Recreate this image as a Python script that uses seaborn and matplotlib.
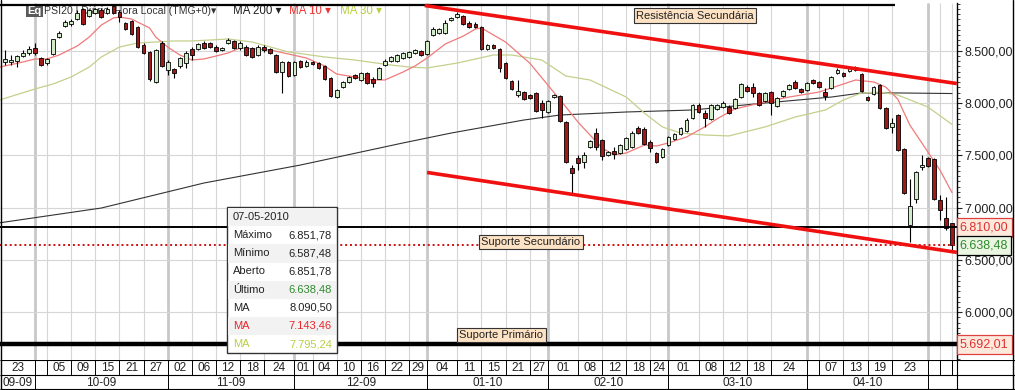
import matplotlib
matplotlib.use('Agg')
import matplotlib.pyplot as plt
from matplotlib.patches import Rectangle
from matplotlib.ticker import MultipleLocator, FuncFormatter
from matplotlib.transforms import blended_transform_factory
import seaborn as sns

# PSI20 daily candles, 24-09-2009 .. 07-05-2010
opens = [8392, 8392, 8402, 8449, 8478, 8526, 8430, 8382, 8468, 8631,
         8736, 8755, 8803, 8899, 8832, 8860, 8889, 8860, 8927, 8870,
         8765, 8784, 8727, 8554, 8488, 8201, 8574, 8315, 8325, 8354,
         8382, 8516, 8516, 8574, 8574, 8535, 8507, 8574, 8593, 8526,
         8535, 8526, 8459, 8535, 8516, 8459, 8296, 8392, 8268, 8402,
         8354, 8392, 8382, 8354, 8239, 8057, 8153, 8201, 8268, 8220,
         8287, 8229, 8229, 8363, 8402, 8402, 8430, 8440, 8478, 8497,
         8468, 8650, 8669, 8669, 8793, 8822, 8832, 8765, 8755, 8727,
         8516, 8554, 8516, 8382, 8210, 8076, 8105, 8076, 8096, 8000,
         7914, 8057, 8067, 7818, 7379, 7474, 7436, 7579, 7713, 7646,
         7503, 7541, 7522, 7560, 7579, 7761, 7751, 7627, 7522, 7484,
         7598, 7656, 7704, 7732, 7857, 7981, 7904, 7847, 7943, 7962,
         7962, 7952, 8057, 8153, 8153, 8096, 8019, 8105, 7971, 8067,
         8134, 8201, 8134, 8124, 8220, 8201, 8105, 8143, 8287, 8287,
         8306, 8344, 8277, 8057, 8086, 8172, 7952, 7771, 7885, 7560,
         6834, 7082, 7388, 7474, 7465, 7073, 6901, 6851.78]
highs = [8507, 8459, 8459, 8507, 8545, 8574, 8440, 8430, 8615, 8688,
         8793, 8803, 8889, 8910, 8899, 8910, 8905, 8915, 8945, 8889,
         8774, 8793, 8736, 8574, 8497, 8516, 8590, 8411, 8335, 8440,
         8497, 8535, 8574, 8590, 8583, 8550, 8535, 8620, 8602, 8590,
         8550, 8540, 8555, 8554, 8530, 8465, 8402, 8402, 8402, 8415,
         8411, 8402, 8392, 8360, 8245, 8134, 8215, 8260, 8277, 8300,
         8300, 8249, 8344, 8421, 8449, 8468, 8490, 8500, 8516, 8507,
         8600, 8725, 8717, 8790, 8822, 8870, 8845, 8784, 8770, 8736,
         8564, 8564, 8526, 8392, 8220, 8220, 8115, 8086, 8105, 8029,
         8029, 8086, 8076, 7828, 7407, 7503, 7532, 7650, 7761, 7656,
         7541, 7579, 7608, 7675, 7730, 7780, 7771, 7646, 7532, 7570,
         7685, 7713, 7771, 7857, 7995, 8000, 7933, 7995, 7995, 8019,
         7981, 8048, 8191, 8170, 8191, 8105, 8105, 8115, 8057, 8124,
         8182, 8220, 8143, 8201, 8230, 8210, 8143, 8258, 8330, 8300,
         8354, 8354, 8287, 8067, 8163, 8182, 7962, 7857, 7895, 7570,
         7273, 7350, 7503, 7484, 7474, 7120, 7101, 6851.78]
lows = [8363, 8363, 8344, 8440, 8459, 8459, 8354, 8363, 8459, 8625,
        8727, 8736, 8793, 8746, 8822, 8851, 8813, 8851, 8851, 8774,
        8698, 8650, 8526, 8468, 8210, 8191, 8340, 8268, 8239, 8335,
        8335, 8411, 8507, 8516, 8526, 8488, 8497, 8564, 8516, 8510,
        8450, 8430, 8450, 8488, 8470, 8287, 8096, 8249, 8258, 8335,
        8344, 8365, 8325, 8220, 8057, 8048, 8143, 8191, 8229, 8210,
        8180, 8153, 8225, 8354, 8392, 8395, 8421, 8430, 8470, 8450,
        8459, 8640, 8660, 8660, 8784, 8813, 8746, 8717, 8717, 8507,
        8507, 8516, 8300, 8229, 8124, 8057, 8029, 8038, 7914, 7857,
        7904, 8048, 7818, 7426, 7140, 7359, 7379, 7570, 7551, 7455,
        7493, 7465, 7512, 7551, 7570, 7704, 7598, 7532, 7426, 7474,
        7590, 7646, 7694, 7723, 7847, 7904, 7771, 7837, 7933, 7952,
        7895, 7943, 8048, 8105, 8057, 7971, 8010, 7885, 7962, 8057,
        8124, 8134, 8096, 8115, 8182, 8143, 8029, 8134, 8277, 8249,
        8296, 8306, 8105, 8019, 8076, 7943, 7751, 7713, 7541, 7130,
        6671, 7045, 7359, 7388, 7073, 6881, 6786, 6587.48]
closes = [8421, 8411, 8449, 8478, 8516, 8478, 8363, 8421, 8612, 8669,
          8774, 8784, 8860, 8755, 8889, 8899, 8822, 8899, 8860, 8822,
          8707, 8660, 8535, 8478, 8229, 8507, 8354, 8392, 8287, 8430,
          8478, 8459, 8564, 8526, 8535, 8497, 8526, 8602, 8526, 8574,
          8459, 8440, 8535, 8507, 8478, 8296, 8392, 8258, 8392, 8344,
          8392, 8373, 8335, 8229, 8067, 8124, 8201, 8249, 8239, 8287,
          8191, 8191, 8335, 8402, 8440, 8459, 8478, 8488, 8507, 8459,
          8593, 8707, 8707, 8765, 8813, 8851, 8755, 8727, 8727, 8516,
          8554, 8526, 8335, 8239, 8134, 8115, 8038, 8048, 7924, 7933,
          8019, 8076, 7828, 7436, 7331, 7426, 7503, 7637, 7579, 7493,
          7532, 7512, 7598, 7665, 7713, 7713, 7608, 7570, 7436, 7560,
          7675, 7704, 7761, 7837, 7981, 7914, 7857, 7981, 7981, 8000,
          7904, 8038, 8182, 8115, 8096, 7981, 8096, 8000, 8048, 8115,
          8172, 8143, 8105, 8191, 8191, 8153, 8067, 8249, 8315, 8258,
          8344, 8315, 8115, 8029, 8153, 7952, 7761, 7809, 7551, 7140,
          7015, 7340, 7407, 7398, 7082, 6977, 6805, 6638.48]

# moving averages, read at selected candles
ma200_idx = [-0.8, 16, 33, 49, 66, 74, 86, 92, 103, 114, 126, 137, 142, 148, 157]
ma200_val = [6855, 6996, 7235, 7407, 7618, 7713, 7837, 7885, 7914, 7933,
             8000, 8057, 8096, 8096, 8090.50]
ma10_idx = [-0.8, 3, 5, 7, 9, 12, 14, 16, 18, 19, 21, 24, 25, 27, 29, 31, 33,
            35, 37, 39, 44, 50, 53, 55, 58, 61, 63, 66, 68, 70, 73, 76, 78,
            79, 83, 87, 90, 93, 95, 97, 99, 101, 103, 106, 108, 110, 113,
            116, 118, 121, 126, 130, 135, 138, 141, 144, 146, 148, 150, 153,
            155, 157]
ma10_val = [8344, 8392, 8421, 8421, 8459, 8545, 8631, 8746, 8813, 8822,
            8803, 8717, 8631, 8535, 8459, 8411, 8421, 8449, 8478, 8526,
            8507, 8430, 8354, 8277, 8249, 8220, 8220, 8296, 8354, 8430,
            8564, 8640, 8707, 8717, 8583, 8382, 8172, 7962, 7818, 7694,
            7570, 7503, 7522, 7598, 7589, 7618, 7675, 7771, 7847, 7943,
            8010, 8057, 8105, 8163, 8220, 8201, 8153, 8038, 7790, 7532,
            7359, 7143.46]
ma30_idx = [-0.8, 5, 8, 11, 14, 16, 19, 22, 25, 28, 31, 34, 37, 41, 47, 53,
            58, 64, 67, 70, 75, 81, 84, 89, 93, 97, 103, 106, 109, 112,
            116, 120, 126, 131, 136, 139, 142, 145, 148, 153, 157]
ma30_val = [8030, 8134, 8182, 8249, 8344, 8440, 8535, 8574, 8583, 8593,
            8593, 8602, 8612, 8583, 8488, 8440, 8411, 8363, 8344, 8335,
            8382, 8459, 8459, 8411, 8258, 8220, 8057, 7904, 7771, 7713,
            7694, 7685, 7771, 7866, 7933, 8029, 8096, 8105, 8076, 7962,
            7795.24]

# date axis: candle index of each grid line and its label
day_ticks = [-1, 5, 7, 11, 15, 19, 23, 27, 31, 35, 39, 43, 48, 51, 55, 59,
             63, 67, 70, 75, 79, 83, 87, 90, 95, 99, 103, 107, 110, 115, 119,
             123, 127, 133, 135, 139, 143, 147, 153, 155, 157]
day_labels = ['23', '', '05', '09', '15', '21', '27', '02', '06', '12', '18',
              '24', '01', '04', '10', '16', '22', '29', '04', '11', '15', '21',
              '27', '01', '08', '12', '18', '24', '01', '08', '12', '18', '24',
              '', '07', '13', '19', '23', '', '', '']
month_ticks = [-1, 5, 27, 48, 70, 90, 110, 133, 153]
month_labels = ['09-09', '10-09', '11-09', '12-09', '01-10', '02-10',
                '03-10', '04-10', '']

# drawn levels and trend channel
resist_sec = 8937
resist_end = 147.5
sup_sec = 6810.00
last_close = 6638.48
sup_prim = 5692.01
trend_top_idx = [69.6, 157.8]
trend_top_val = [8932, 8186]
trend_bot_idx = [70.0, 157.8]
trend_bot_val = [7336, 6572]

tip_labels = ['Máximo', 'Mínimo', 'Aberto', 'Último', 'MA', 'MA', 'MA']
tip_values = [6851.78, 6587.48, 6851.78, 6638.48, 8090.50, 7143.46, 7795.24]


def br(v):
    s = f'{v:,.2f}'
    return s.replace(',', '#').replace('.', ',').replace('#', '.')


sns.set_style('white')
plt.rcParams['font.family'] = ['Liberation Sans', 'DejaVu Sans']

W, H = 1015, 390
STEP = 6.033
X0 = -0.8
X1 = X0 + 957 / STEP

fig = plt.figure(figsize=(W / 100, H / 100), dpi=100)
fig.patch.set_facecolor('white')

ax = fig.add_axes([0, 30 / H, 957 / W, 357 / H])
ax.set_xlim(X0, X1)
ax.set_ylim(5543, 8956)

# grid
ax.vlines([t for t in day_ticks if t > X0], 5543, 8956, color='#d6d6d6', lw=0.8, zorder=0)
ax.vlines([t for t in month_ticks if t > X0], 5543, 8956, color='#c8c8c8', lw=2.0, zorder=0)
ax.hlines([6000, 6500, 7000, 7500, 8000, 8500], X0, X1, color='#d6d6d6', lw=0.8, zorder=0)

# moving averages
sns.lineplot(x=ma200_idx, y=ma200_val, ax=ax, color='#333333', lw=0.8, zorder=2)
sns.lineplot(x=ma30_idx, y=ma30_val, ax=ax, color='#c3d08c', lw=0.9, zorder=2)
sns.lineplot(x=ma10_idx, y=ma10_val, ax=ax, color='#f07a7a', lw=0.9, zorder=2)

# candles
idx = list(range(len(closes)))
ax.vlines(idx, lows, highs, color='black', lw=0.8, zorder=3)
for i, o, c in zip(idx, opens, closes):
    up = c >= o
    ax.bar(i, max(abs(c - o), 8), bottom=min(o, c), width=0.62,
           color='#d2ebc8' if up else '#a01818', edgecolor='black', lw=0.6, zorder=4)

# levels
ax.hlines(resist_sec, X0, resist_end, color='black', lw=1.6, zorder=5)
ax.hlines(sup_sec, X0, X1, color='black', lw=1.4, zorder=5)
ax.hlines(last_close, X0, X1, color='#d01010', lw=1.4, ls=(0, (1, 1.5)), zorder=5)
ax.hlines(sup_prim, X0, X1, color='black', lw=3.2, zorder=5)
ax.plot(trend_top_idx, trend_top_val, color='#f01010', lw=2.6, zorder=6, solid_capstyle='butt')
ax.plot(trend_bot_idx, trend_bot_val, color='#f01010', lw=2.6, zorder=6, solid_capstyle='butt')

box = dict(boxstyle='square,pad=0.2', fc='#fde2c4', ec='#333333', lw=0.8)
ax.text(114.4, 8836, 'Resistência Secundária', fontsize=8, color='#222222', ha='center', va='center', bbox=box, zorder=7)
ax.text(87.2, 6670, 'Suporte Secundário', fontsize=8, color='#222222', ha='center', va='center', bbox=box, zorder=7)
ax.text(82.3, 5780, 'Suporte Primário', fontsize=8, color='#222222', ha='center', va='center', bbox=box, zorder=7)

# right axis
ax.yaxis.tick_right()
ax.set_yticks([6000, 6500, 7000, 7500, 8000, 8500])
ax.yaxis.set_major_formatter(FuncFormatter(lambda v, p: br(v)))
ax.yaxis.set_minor_locator(MultipleLocator(50))
ax.tick_params(axis='y', which='major', direction='out', length=3.6, width=0.8, pad=2, labelsize=9, colors='#222222')
ax.tick_params(axis='y', which='minor', direction='out', length=2.2, width=0.6, colors='#222222')
ax.set_xticks([])
for side in ['top', 'bottom', 'left']:
    ax.spines[side].set_visible(False)
ax.spines['right'].set_color('black')
ax.spines['right'].set_linewidth(1)
ax.set_xlabel('')
ax.set_ylabel('')

tr = blended_transform_factory(ax.transAxes, ax.transData)
for val, tc, fc, ec in [(sup_sec, '#e03030', '#fde8dc', '#e04040'),
                        (last_close, '#2e8b2e', '#eaf5e2', 'black'),
                        (sup_prim, '#e03030', '#fde8dc', '#e04040')]:
    ax.text(1.003, val, br(val), transform=tr, ha='left', va='center', fontsize=9, color=tc,
            bbox=dict(boxstyle='square,pad=0.25', fc=fc, ec=ec, lw=0.9), clip_on=False, zorder=10)

# date table
dax = fig.add_axes([0, 0, 1, 30 / H])
dax.set_xlim(X0, X0 + W / STEP)
dax.set_ylim(0, 2)
dax.axis('off')
dax.hlines([1.97, 1.0, 0.04], X0, X0 + W / STEP, color='black', lw=0.8)
dax.vlines([t for t in day_ticks if t > X0], 1.0, 2.0, color='black', lw=0.7)
dax.vlines([t for t in month_ticks if t > X0], 0, 2.0, color='black', lw=0.7)
dax.vlines([X1], 0, 2.0, color='black', lw=0.8)
for k, (t, lab) in enumerate(zip(day_ticks, day_labels)):
    nxt = day_ticks[k + 1] if k + 1 < len(day_ticks) else X1
    dax.text((max(t, X0) + nxt) / 2, 1.47, lab, ha='center', va='center', fontsize=8.5, color='#222222')
for k, (t, lab) in enumerate(zip(month_ticks, month_labels)):
    nxt = month_ticks[k + 1] if k + 1 < len(month_ticks) else X1
    dax.text((max(t, X0) + nxt) / 2, 0.5, lab, ha='center', va='center', fontsize=8.5, color='#222222')

# overlay in pixel space: header, tooltip, frame
ov = fig.add_axes([0, 0, 1, 1], zorder=10)
ov.set_xlim(0, W)
ov.set_ylim(H, 0)
ov.axis('off')
ov.patch.set_alpha(0)

ax.text(27, 11, 'Eq', transform=ov.transData, fontsize=8, fontweight='bold', color='white', va='center',
        bbox=dict(boxstyle='square,pad=0.12', fc='#5a5a5a', ec='none'), zorder=1)
ax.text(44, 11, 'PSI20 | Diário  Hora Local (TMG+0)▾', transform=ov.transData, fontsize=7.6,
        color='#333333', va='center', zorder=1)
ax.text(233, 11, 'MA 200 ▾', transform=ov.transData, fontsize=8.3, color='#222222', va='center', zorder=1)
ax.text(289, 11, 'MA 10 ▾', transform=ov.transData, fontsize=8.3, color='#ee3333', va='center', zorder=1)
ax.text(340, 11, 'MA 30 ▾', transform=ov.transData, fontsize=8.3, color='#b7cf3c', va='center', zorder=1)

ov.add_patch(Rectangle((227, 207), 110, 146, fc='white', ec='#333333', lw=1))
for r in range(8):
    if r % 2 == 0:
        ov.add_patch(Rectangle((228, 208 + r * 18.2), 108, 18.2, fc='#f2f2f2', ec='none'))
ov.text(233, 216.5, '07-05-2010', fontsize=8, color='#222222', va='center')
val_cols = ['#222222', '#222222', '#222222', '#2e8b2e', '#222222', '#e8262c', '#b8cf45']
lab_cols = ['#222222', '#222222', '#222222', '#222222', '#222222', '#e8262c', '#b8cf45']
for r, (lab, v) in enumerate(zip(tip_labels, tip_values)):
    yy = 235 + r * 18.2
    ov.text(233, yy, lab, fontsize=8, color=lab_cols[r], va='center')
    ov.text(332, yy, br(v), fontsize=8, color=val_cols[r], va='center', ha='right')

ov.plot([0.5, 0.5], [0, H], color='black', lw=1)
ov.plot([1013.5, 1013.5], [0, H], color='black', lw=1)
ov.plot([0, W], [389.5, 389.5], color='black', lw=1)

fig.savefig('out.png', dpi=100)
